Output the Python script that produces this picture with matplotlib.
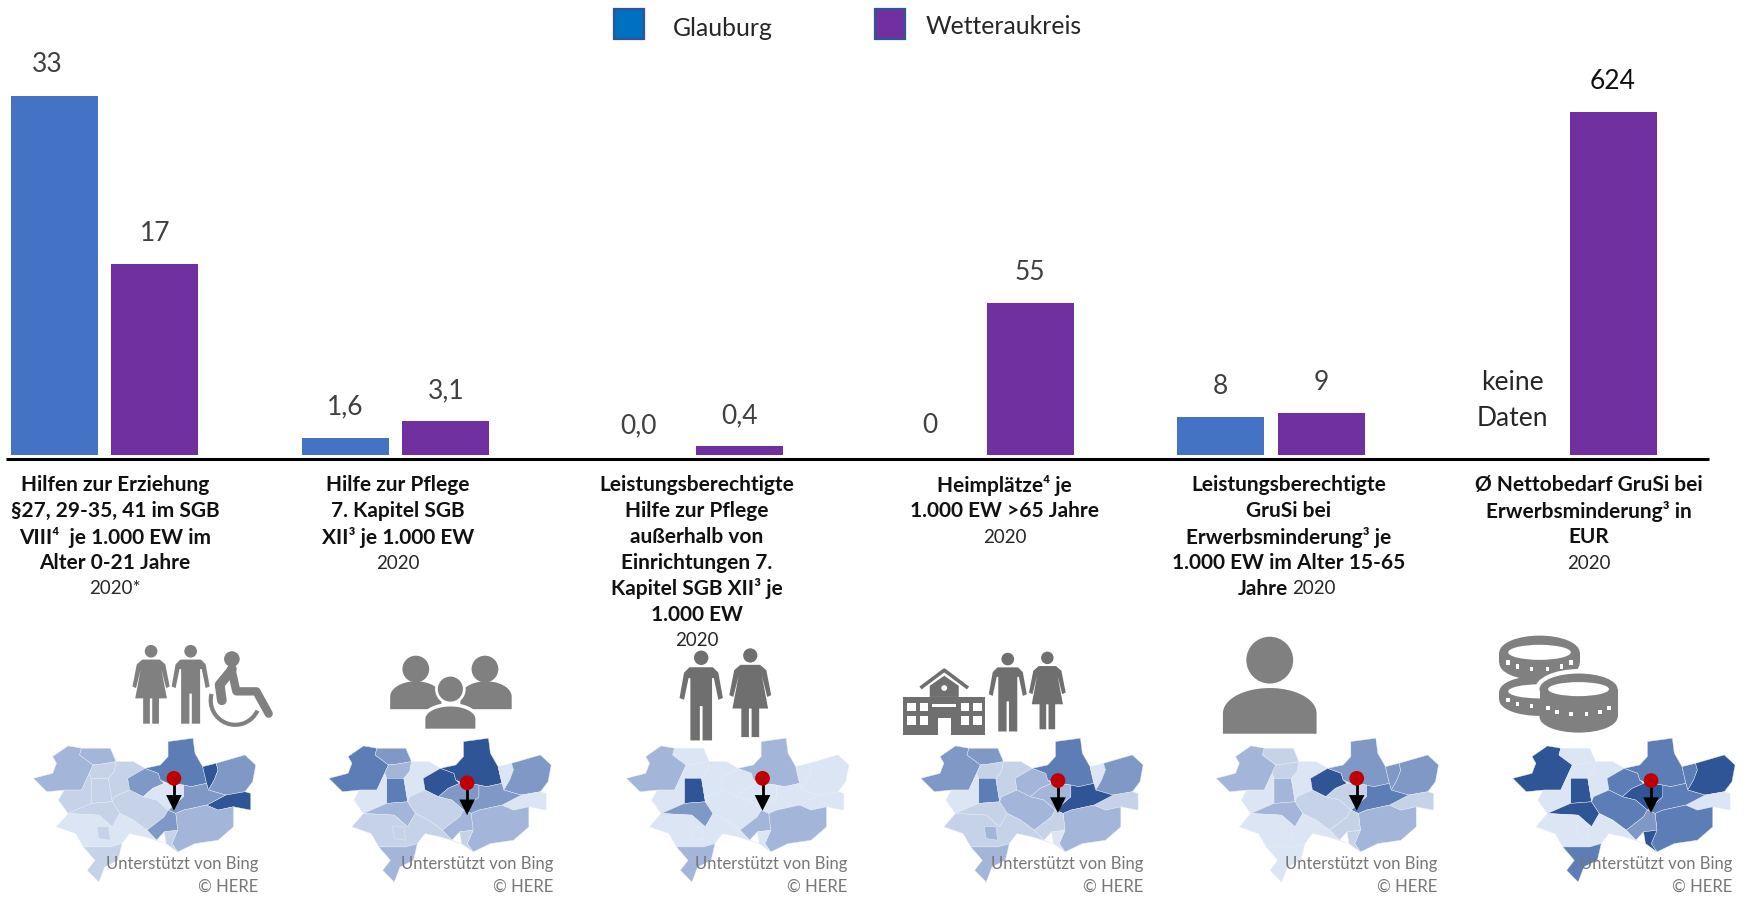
import numpy as np
import matplotlib
matplotlib.use('Agg')
import matplotlib.pyplot as plt
from matplotlib.patches import Polygon, Circle, Ellipse, Rectangle, Arc

plt.rcParams['font.family'] = ['Lato', 'DejaVu Sans']

# Chart data: each group was a chart of its own, so each has its own scale
series_names = ['Glauburg', 'Wetteraukreis']
glauburg = [33, 1.6, 0.0, 0, 8, np.nan]
wetterau = [17.5, 3.1, 0.4, 55, 9, 624]
glauburg_labels = ['33', '1,6', '0,0', '0', '8', 'keine\nDaten']
wetterau_labels = ['17', '3,1', '0,4', '55', '9', '624']
group_ylim = [38.7, 39.0, 18.9, 152.9, 89.5, 768]

BLUE = '#4472c4'
PURPLE = '#7030a0'
GREY = '#808080'

W, H = 1568, 808  # layout below is measured in these units
BASE = 408
TOP = 30
SLOT = 90
group_left = [4, 265, 528, 789, 1050, 1312]
glauburg_shift = [-5, 0, 0, 0, 0, 0]

fig = plt.figure(figsize=(17.48, 9.01), dpi=100)

# the bars
for i in range(6):
    ax = fig.add_axes([group_left[i] / W, 1 - BASE / H, 2 * SLOT / W, (BASE - TOP) / H])
    ax.bar([0, 1], [glauburg[i], wetterau[i]], width=0.867, color=[BLUE, PURPLE])
    ax.set_xlim(-0.5, 1.5)
    ax.set_ylim(0, group_ylim[i])
    ax.axis('off')
    ax.patch.set_alpha(0)
    g = 0 if np.isnan(glauburg[i]) else glauburg[i]
    off = 21 if g == 0 else 22
    if np.isnan(glauburg[i]):
        off = 39
    ax.annotate(glauburg_labels[i], (0, g), xytext=(glauburg_shift[i], off), textcoords='offset points',
                ha='center', va='center', fontsize=19, linespacing=1.55,
                color='#262626' if np.isnan(glauburg[i]) else '#404040', annotation_clip=False)
    ax.annotate(wetterau_labels[i], (1, wetterau[i]), xytext=(0, 22), textcoords='offset points',
                ha='center', va='center', fontsize=19,
                color='#111111' if i == 5 else '#404040', annotation_clip=False)

# overlay for everything around the bars, y runs downwards
ov = fig.add_axes([0, 0, 1, 1])
ov.set_xlim(0, W)
ov.set_ylim(H, 0)
ov.axis('off')
ov.patch.set_alpha(0)

ov.plot([5, 1533], [412, 412], color='black', lw=2.2, solid_capstyle='butt')

# legend
ov.add_patch(Rectangle((551, 8), 27, 27, fc='#0070c0', ec='#2f5597', lw=1.6))
ov.add_patch(Rectangle((785, 8), 27, 27, fc=PURPLE, ec='#2f5597', lw=1.6))
ov.text(604, 26, series_names[0], fontsize=17.8, color='#262626', va='center')
ov.text(830, 24, series_names[1], fontsize=17.8, color='#262626', va='center')

# category captions, (text, bold)
captions = [
    (103, [('Hilfen zur Erziehung', 1), ('§27, 29-35, 41 im SGB', 1), ('VIII⁴  je 1.000 EW im', 1),
           ('Alter 0-21 Jahre', 1), ('2020*', 0)]),
    (357, [('Hilfe zur Pflege', 1), ('7. Kapitel SGB', 1), ('XII³ je 1.000 EW', 1), ('2020', 0)]),
    (625, [('Leistungsberechtigte', 1), ('Hilfe zur Pflege', 1), ('außerhalb von', 1),
           ('Einrichtungen 7.', 1), ('Kapitel SGB XII³ je', 1), ('1.000 EW', 1), ('2020', 0)]),
    (901, [('Heimplätze⁴ je', 1), ('1.000 EW >65 Jahre', 1), ('2020', 0)]),
    (1156, [('Leistungsberechtigte', 1), ('GruSi bei', 1), ('Erwerbsminderung³ je', 1),
            ('1.000 EW im Alter 15-65', 1)]),
    (1425, [('Ø Nettobedarf GruSi bei', 1), ('Erwerbsminderung³ in', 1), ('EUR', 1), ('2020', 0)]),
]
for cx, lines in captions:
    for n, (txt, bold) in enumerate(lines):
        ov.text(cx, 435 + n * 23.3, txt, ha='center', va='center', fontsize=15 if bold else 13.5,
                fontweight='bold' if bold else 'normal', color='#111111' if bold else '#262626')
ov.text(1155, 435 + 4 * 23.3, 'Jahre', ha='right', va='center', fontsize=15, fontweight='bold', color='#111111')
ov.text(1159, 435 + 4 * 23.3, '2020', ha='left', va='center', fontsize=13.5, color='#262626')

# map regions, shared by all six maps
regions = [
    [(90,415),(140,400),(150,370),(140,350),(180,318),(215,325),(210,345),(245,375),(235,400),(215,450),(170,450),(125,455)],
    [(215,325),(290,325),(305,365),(270,372),(245,375),(210,345)],
    [(245,375),(270,372),(305,365),(300,395),(285,415),(240,415),(235,400)],
    [(240,415),(285,415),(295,485),(240,490)],
    [(215,450),(235,400),(240,415),(240,490),(180,520),(155,480),(170,450)],
    [(305,365),(350,365),(380,385),(335,415),(340,450),(300,470),(295,485),(285,415),(300,395)],
    [(335,415),(380,385),(415,400),(420,420),(430,430),(400,445),(375,470),(340,450)],
    [(440,305),(505,295),(510,340),(525,370),(530,380),(540,430),(500,440),(480,435),(440,430),(420,420),(415,400),(380,385),(420,375),(440,350)],
    [(530,380),(565,370),(570,390),(560,420),(545,450),(540,430)],
    [(565,370),(640,345),(668,375),(660,425),(640,455),(590,465),(545,450),(560,420),(570,390)],
    [(540,495),(590,465),(640,455),(655,460),(655,510),(610,500),(570,510)],
    [(480,435),(500,440),(540,430),(545,450),(590,465),(540,495),(480,510),(460,520),(440,510),(480,470)],
    [(400,445),(430,430),(440,430),(480,435),(480,470),(440,510),(410,480),(375,470)],
    [(180,520),(240,490),(295,485),(315,520),(295,560),(260,525)],
    [(295,485),(300,470),(340,450),(375,470),(410,480),(440,510),(430,530),(385,570),(350,540),(315,520)],
    [(460,520),(480,510),(540,495),(570,510),(610,500),(610,560),(570,600),(510,610),(465,635),(450,610),(465,570)],
    [(385,570),(430,530),(440,510),(460,520),(465,570),(430,575),(410,600)],
    [(430,575),(465,570),(450,610),(465,635),(435,610)],
    [(150,560),(180,520),(260,525),(295,560),(315,520),(350,540),(385,570),(410,600),(435,610),(380,590),(340,580),(320,610),(290,620),(220,620),(200,580)],
    [(220,620),(290,620),(320,610),(310,660),(275,680),(260,725),(230,690),(250,660)],
    [(255,560),(285,560),(290,600),(260,595)],
]
palette = ['#dce5f3', '#c5d2e8', '#a3b5d8', '#8098c6', '#5c7db5', '#2f5597']
map_shades = [
    [2,2,1,1,1,1,3,4,5,3,5,3,0,1,1,2,3,1,0,1,1],
    [4,3,2,4,0,0,5,5,0,3,0,3,3,2,1,2,2,1,1,2,1],
    [2,0,0,5,0,0,0,2,0,0,0,0,0,3,0,2,2,0,0,2,0],
    [3,3,1,4,0,1,2,4,0,3,1,5,2,1,2,2,1,0,1,2,2],
    [2,1,1,2,0,0,5,3,3,3,1,4,1,2,1,2,1,1,0,0,0],
    [5,0,0,5,0,0,4,4,4,5,0,4,5,5,4,4,3,5,0,4,0],
]
map_shift = [0, 265, 532, 796, 1061, 1327]
pins = [(156, 698), (419, 702), (684, 698), (949, 700), (1217, 698), (1481, 700)]
bing_right = [232, 496, 760, 1026, 1289, 1554]

for m in range(6):
    for reg, shade in zip(regions, map_shades[m]):
        pts = [(30 + (x - 90) * 0.345 + map_shift[m], 662 + (y - 295) * 0.3) for x, y in reg]
        ov.add_patch(Polygon(pts, closed=True, fc=palette[shade], ec='#e8edf6', lw=0.3, zorder=2))
    px, py = pins[m]
    ov.plot([px, px], [py, py + 16], color='black', lw=2, zorder=4)
    ov.add_patch(Polygon([(px - 7, py + 15), (px + 7, py + 15), (px, py + 29)], fc='black', ec='none', zorder=4))
    ov.add_patch(Circle((px, py), 6.6, fc='#c00000', ec='none', zorder=5))
    ov.text(bing_right[m], 775, 'Unterstützt von Bing', ha='right', va='center', fontsize=12, color='#777777', zorder=6)
    ov.text(bing_right[m], 795, '© HERE', ha='right', va='center', fontsize=12, color='#777777', zorder=6)


# icons
def person(cx, top, h, woman=False, color=GREY):
    ov.add_patch(Circle((cx, top + 0.085 * h), 0.08 * h, fc=color, ec='none'))
    if woman:
        half = [(0,.19),(.11,.19),(.18,.25),(.235,.53),(.19,.55),(.13,.31),(.2,.68),(.10,.68),(.10,1.0),(.015,1.0),(.015,.68),(0,.68)]
    else:
        half = [(0,.19),(.13,.19),(.19,.25),(.24,.53),(.19,.55),(.14,.31),(.12,.31),(.12,1.0),(.015,1.0),(.015,.62),(0,.62)]
    pts = [(cx + u * h, top + v * h) for u, v in half] + [(cx - u * h, top + v * h) for u, v in half[::-1]]
    ov.add_patch(Polygon(pts, fc=color, ec='none'))


def bust(cx, top, bot, hw, color=GREY, outline=False):
    t = np.linspace(np.pi, 2 * np.pi, 30)
    pts = np.column_stack([cx + hw * np.cos(t), bot - (bot - top) * 0.45 + (bot - top) * 0.55 * np.sin(t)])
    pts = np.vstack([[cx - hw, bot], pts, [cx + hw, bot]])
    ov.add_patch(Polygon(pts, fc=color, ec='white' if outline else 'none', lw=2.5 if outline else 0))


def coin(cx, cy, w, eh, thick):
    ov.add_patch(Rectangle((cx - w / 2, cy), w, thick, fc=GREY, ec='none'))
    ov.add_patch(Ellipse((cx, cy + thick), w, eh, fc=GREY, ec='none'))
    ov.add_patch(Ellipse((cx, cy), w, eh, fc=GREY, ec='none'))
    ov.add_patch(Ellipse((cx, cy), w * 0.78, eh * 0.45, fc='white', ec='none'))
    for a in np.linspace(0.12, 0.88, 6) * np.pi:
        x = cx + 0.42 * w * np.cos(a)
        y = cy + thick * 0.55 + 0.32 * eh * np.sin(a)
        ov.add_patch(Rectangle((x - 1.6, y - 2), 3.2, 4, fc='white', ec='none'))


# icon 1, woman, man, wheelchair
person(135.5, 578, 71, woman=True)
person(171, 578, 71)
ov.add_patch(Circle((208, 591), 7, fc=GREY, ec='none'))
ov.plot([208, 207, 197, 199], [600, 602, 614, 628], color=GREY, lw=7, solid_capstyle='round', solid_joinstyle='round')
ov.plot([208, 212, 230, 241], [602, 620, 620, 640], color=GREY, lw=6, solid_capstyle='round', solid_joinstyle='round')
ov.add_patch(Arc((211, 628), 44, 44, theta1=25, theta2=195, color=GREY, lw=3))

# icon 2, three busts
ov.add_patch(Circle((373, 600), 12, fc=GREY, ec='none'))
ov.add_patch(Circle((435, 600), 12, fc=GREY, ec='none'))
bust(373, 611, 636, 23)
bust(436, 611, 636, 23)
ov.add_patch(Circle((404, 618), 12.5, fc=GREY, ec='white', lw=2))
bust(404, 632, 655, 24, outline=True)

# icon 3, man and woman
person(629, 583, 81, color='#6f6f6f')
person(673, 581, 80, woman=True, color='#6f6f6f')

# icon 4, building, man and woman
DARK = '#6f6f6f'
ov.add_patch(Rectangle((810, 625), 74, 34, fc=DARK, ec='none'))
ov.add_patch(Polygon([(834, 625), (834, 615), (847, 606), (860, 615), (860, 625)], fc=DARK, ec='none'))
ov.plot([827, 847, 867], [616, 601, 616], color=DARK, lw=2.6)
ov.add_patch(Circle((847, 617), 2.6, fc='white', ec='none'))
for wx in [814, 825, 862, 873]:
    for wy in [630, 642]:
        ov.add_patch(Rectangle((wx, wy), 7.5, 8, fc='white', ec='none'))
ov.add_patch(Rectangle((836, 631), 22, 3, fc='white', ec='none'))
ov.add_patch(Rectangle((841, 644), 12, 15, fc='white', ec='none'))
person(904, 585, 71, color=DARK)
person(939.5, 584, 70, woman=True, color=DARK)

# icon 5, single bust
ov.add_patch(Circle((1139, 592), 21, fc=GREY, ec='none'))
bust(1139, 617, 658, 42)

# icon 6, stacked coins
coin(1381, 620, 72, 28, 8)
coin(1381, 585, 72, 30, 10)
ov.add_patch(Ellipse((1416, 618), 78, 36, fc='white', ec='none'))
coin(1416, 618, 70, 28, 25)

fig.savefig('out.png', dpi=100)
